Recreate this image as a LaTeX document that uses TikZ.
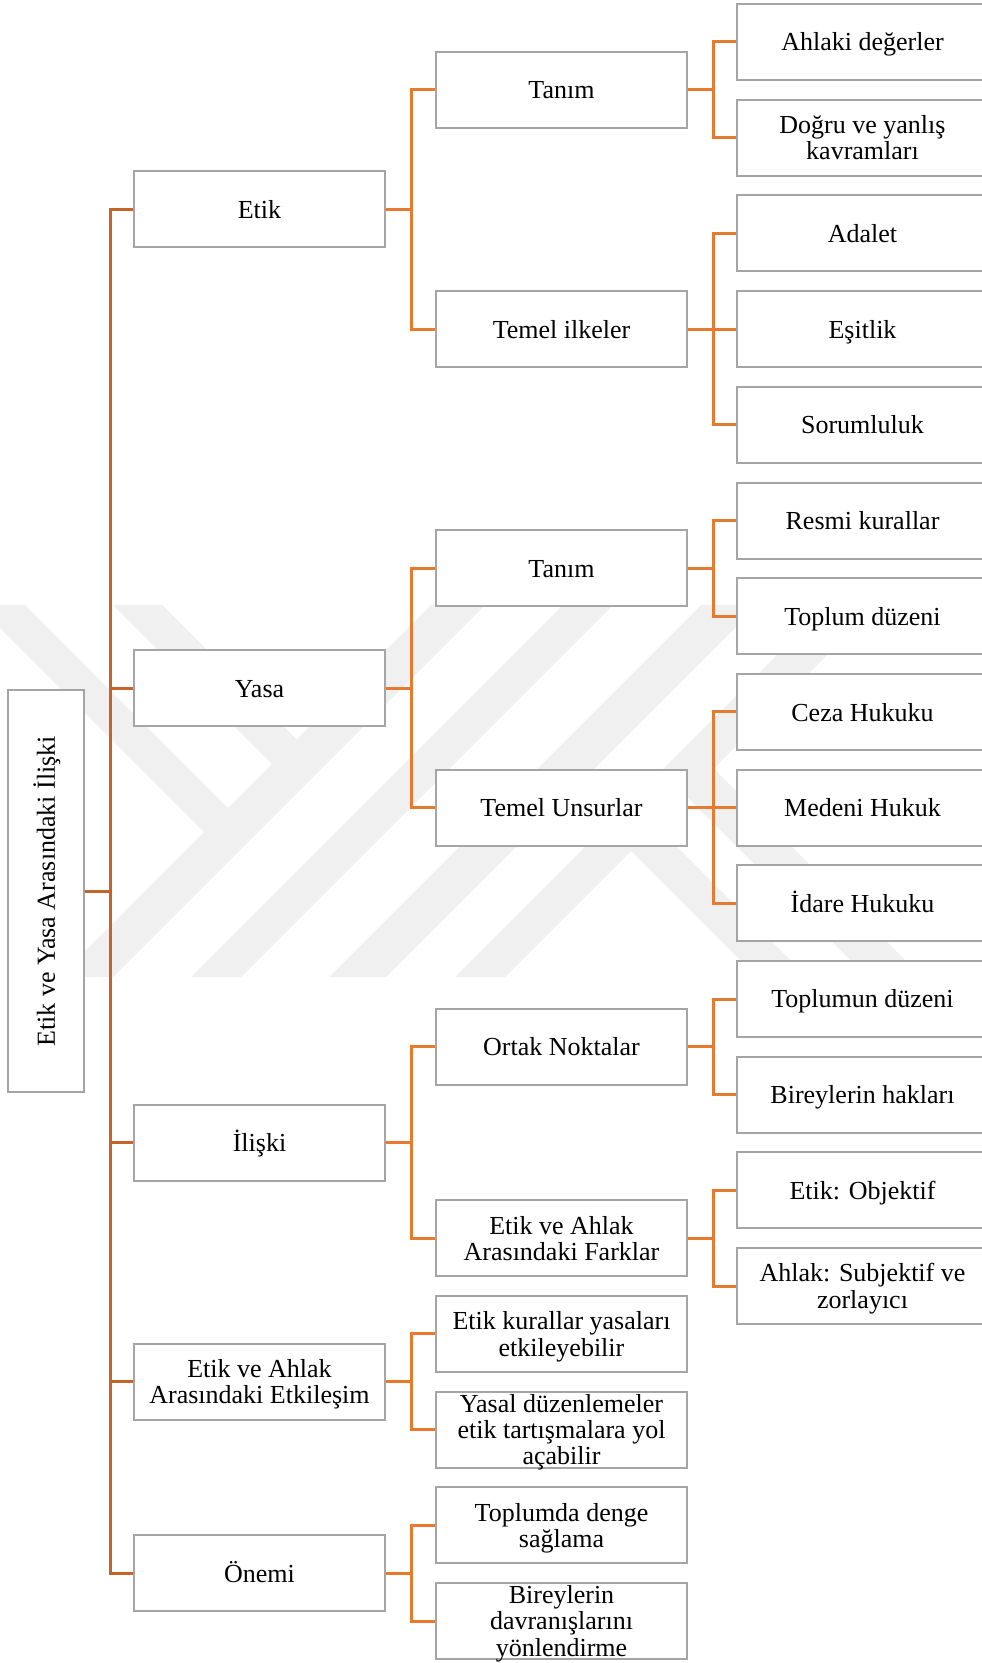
\documentclass[tikz,border=0pt]{standalone}
\usepackage{fontspec}
\setmainfont{Liberation Serif}
\usetikzlibrary{backgrounds}
\definecolor{lnA}{RGB}{197,100,40}
\definecolor{lnB}{RGB}{232,122,48}
\definecolor{bxg}{RGB}{165,165,165}
\definecolor{wm}{RGB}{240,240,240}
\newcommand\ms{\rule[-0.2em]{0pt}{1.1em}}
\newcommand\fs{\fontsize{13pt}{13.2pt}\selectfont\lineskiplimit=-100pt\relax}
\newcommand\bx[4]{\node[box] (#1) at (#2,#3) {}; \node[txt] (#1-t) at (#1.center) {#4};}
\begin{document}
\begin{tikzpicture}[x=0.5pt,y=-0.5pt,
  box/.style={draw=bxg,line width=1pt,fill=white,minimum width=125.5pt,minimum height=38pt,inner sep=0pt},
  txt/.style={font=\fs,align=center,inner sep=0pt},
  conA/.style={draw=lnA,line width=1.5pt},
  conB/.style={draw=lnB,line width=1.5pt}]
\useasboundingbox (0,0) rectangle (981,1663);

% root
\node[box,minimum width=38pt,minimum height=201pt] (root) at (46,891.35) {};
\node[txt,rotate=90] (root-t) at (root.center) {\ms Etik ve Yasa Arasındaki İlişki};

% level 1
\bx{etik}{259.5}{209.5}{\ms Etik}
\bx{yasa}{259.5}{688}{\ms Yasa}
\bx{iliski}{259.5}{1142.55}{\ms İlişki}
\bx{etkil}{259.5}{1381.8}{\ms Etik ve Ahlak\\\ms Arasındaki Etkileşim}
\bx{onemi}{259.5}{1573.2}{\ms Önemi}

% level 2
\bx{tanE}{561.5}{89.85}{\ms Tanım}
\bx{temE}{561.5}{329.1}{\ms Temel ilkeler}
\bx{tanY}{561.5}{568.35}{\ms Tanım}
\bx{temY}{561.5}{807.6}{\ms Temel Unsurlar}
\bx{ortak}{561.5}{1046.85}{\ms Ortak Noktalar}
\bx{fark}{561.5}{1238.25}{\ms Etik ve Ahlak\\\ms Arasındaki Farklar}
\bx{kural}{561.5}{1333.95}{\ms Etik kurallar yasaları\\\ms etkileyebilir}
\bx{yasal}{561.5}{1429.65}{\ms Yasal düzenlemeler\\\ms etik tartışmalara yol\\\ms açabilir}
\bx{denge}{561.5}{1525.35}{\ms Toplumda denge\\\ms sağlama}
\bx{birey}{561.5}{1621.05}{\ms Bireylerin\\\ms davranışlarını\\\ms yönlendirme}

% level 3
\bx{a0}{862.5}{42}{\ms Ahlaki değerler}
\bx{a1}{862.5}{137.7}{\ms Doğru ve yanlış\\\ms kavramları}
\bx{a2}{862.5}{233.4}{\ms Adalet}
\bx{a3}{862.5}{329.1}{\ms Eşitlik}
\bx{a4}{862.5}{424.8}{\ms Sorumluluk}
\bx{a5}{862.5}{520.5}{\ms Resmi kurallar}
\bx{a6}{862.5}{616.2}{\ms Toplum düzeni}
\bx{a7}{862.5}{711.9}{\ms Ceza Hukuku}
\bx{a8}{862.5}{807.6}{\ms Medeni Hukuk}
\bx{a9}{862.5}{903.3}{\ms İdare Hukuku}
\bx{a10}{862.5}{999}{\ms Toplumun düzeni}
\bx{a11}{862.5}{1094.7}{\ms Bireylerin hakları}
\bx{a12}{862.5}{1190.4}{\ms Etik: Objektif}
\bx{a13}{862.5}{1286.1}{\ms Ahlak: Subjektif ve\\\ms zorlayıcı}

\begin{pgfonlayer}{background}
% watermark
\begin{scope}
\clip (0,605) rectangle (981,977);
\fill[wm] (431,605) -- (485,605) -- (113,977) -- (59,977) -- cycle;
\fill[wm] (563,605) -- (613,605) -- (241,977) -- (191,977) -- cycle;
\fill[wm] (701,605) -- (758,605) -- (386,977) -- (329,977) -- cycle;
\fill[wm] (827,605) -- (877,605) -- (505,977) -- (455,977) -- cycle;
\fill[wm] (113,605) -- (162,605) -- (308.5,751.5) -- (284,776) -- cycle;
\fill[wm] (-23,605) -- (25,605) -- (240,820) -- (216,844) -- cycle;
\fill[wm] (645,815) -- (620,840) -- (757,977) -- (807,977) -- cycle;
\fill[wm] (702.5,757.5) -- (675,785) -- (867,977) -- (922,977) -- cycle;
\end{scope}
% connectors root -> level 1
\foreach \c in {etik,yasa,iliski,etkil,onemi}
  \draw[conA] (root.east) -- ++(25,0) |- (\c.west);
% level 1 -> level 2
\foreach \p/\c in {etik/tanE,etik/temE,yasa/tanY,yasa/temY,iliski/ortak,iliski/fark,etkil/kural,etkil/yasal,onemi/denge,onemi/birey}
  \draw[conB] (\p.east) -- ++(25.5,0) |- (\c.west);
% level 2 -> level 3
\foreach \p/\c in {tanE/a0,tanE/a1,temE/a2,temE/a3,temE/a4,tanY/a5,tanY/a6,temY/a7,temY/a8,temY/a9,ortak/a10,ortak/a11,fark/a12,fark/a13}
  \draw[conB] (\p.east) -- ++(25,0) |- (\c.west);
\end{pgfonlayer}
\end{tikzpicture}
\end{document}
